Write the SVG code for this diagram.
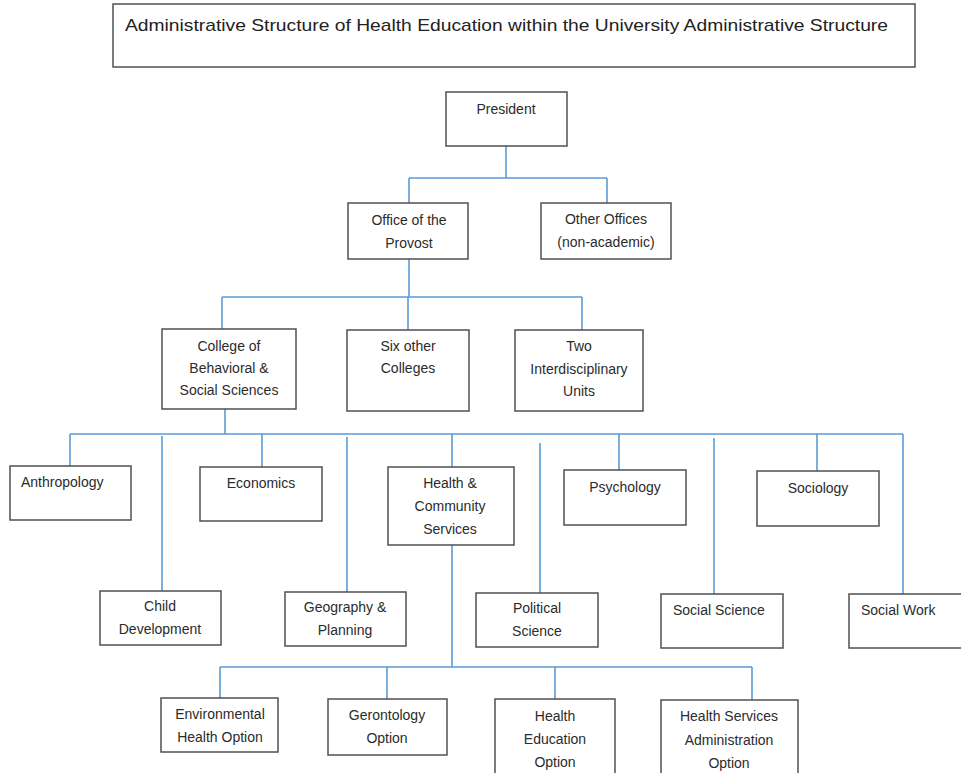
<svg xmlns="http://www.w3.org/2000/svg" width="961" height="773" viewBox="0 0 961 773">
  <style>
    .box { fill: #ffffff; stroke: #505050; stroke-width: 1.5; }
    .lbl { font-family: "Liberation Sans", Arial, sans-serif; font-size: 14px; fill: #2b2b2b; }
    .mid { text-anchor: middle; }
    .title { font-family: "Liberation Sans", Arial, sans-serif; font-size: 17px; fill: #222222; }
    .conn { fill: none; stroke: #5b9bd5; stroke-width: 1.6; }
  </style>
  <rect width="961" height="773" fill="#ffffff"/>

  <!-- heading -->
  <g id="title">
    <rect class="box" x="113" y="4" width="802" height="63"/>
    <text class="title" x="125" y="31" textLength="763" lengthAdjust="spacingAndGlyphs">Administrative Structure of Health Education within the University Administrative Structure</text>
  </g>

  <!-- reporting lines -->
  <g id="connectors">
    <path class="conn" d="M506 146 V178 M409 178 H607 M409 178 V203 M607 178 V203"/>
    <path class="conn" d="M409 259 V297 M222 297 H582 M222 297 V330 M408 297 V330 M582 297 V330"/>
    <path class="conn" d="M225 409 V434 M70 434 H903 M70 434 V466 M262 434 V467 M452 434 V467 M619 434 V470 M817 434 V471 M903 434 V594"/>
    <path class="conn" d="M162 436 V591 M347 437 V592 M540 443 V593 M714 438 V594"/>
    <path class="conn" d="M452 545 V667 M220 667 H752 M220 667 V698 M387 667 V699 M555 667 V699 M752 667 V700"/>
  </g>

  <g id="president">
    <rect class="box" x="446" y="92" width="121" height="54"/>
    <text class="lbl mid" x="506" y="114">President</text>
  </g>
  <g id="provost">
    <rect class="box" x="348" y="203" width="120" height="56"/>
    <text class="lbl mid" x="409" y="225">Office of the</text>
    <text class="lbl mid" x="409" y="248">Provost</text>
  </g>
  <g id="other-offices">
    <rect class="box" x="541" y="203" width="130" height="56"/>
    <text class="lbl mid" x="606" y="224">Other Offices</text>
    <text class="lbl mid" x="606" y="247">(non-academic)</text>
  </g>

  <g id="college-bss">
    <rect class="box" x="162" y="329" width="134" height="80"/>
    <text class="lbl mid" x="229" y="351">College of</text>
    <text class="lbl mid" x="229" y="373">Behavioral &amp;</text>
    <text class="lbl mid" x="229" y="395">Social Sciences</text>
  </g>
  <g id="six-colleges">
    <rect class="box" x="347" y="330" width="122" height="81"/>
    <text class="lbl mid" x="408" y="351">Six other</text>
    <text class="lbl mid" x="408" y="373">Colleges</text>
  </g>
  <g id="interdisciplinary">
    <rect class="box" x="515" y="330" width="128" height="81"/>
    <text class="lbl mid" x="579" y="351">Two</text>
    <text class="lbl mid" x="579" y="374">Interdisciplinary</text>
    <text class="lbl mid" x="579" y="396">Units</text>
  </g>

  <g id="anthropology">
    <rect class="box" x="10" y="466" width="121" height="54"/>
    <text class="lbl" x="21" y="487">Anthropology</text>
  </g>
  <g id="economics">
    <rect class="box" x="200" y="467" width="122" height="54"/>
    <text class="lbl mid" x="261" y="488">Economics</text>
  </g>
  <g id="health-community">
    <rect class="box" x="388" y="467" width="126" height="78"/>
    <text class="lbl mid" x="450" y="488">Health &amp;</text>
    <text class="lbl mid" x="450" y="511">Community</text>
    <text class="lbl mid" x="450" y="534">Services</text>
  </g>
  <g id="psychology">
    <rect class="box" x="564" y="470" width="122" height="55"/>
    <text class="lbl mid" x="625" y="492">Psychology</text>
  </g>
  <g id="sociology">
    <rect class="box" x="757" y="471" width="122" height="55"/>
    <text class="lbl mid" x="818" y="493">Sociology</text>
  </g>

  <g id="child-development">
    <rect class="box" x="100" y="591" width="121" height="54"/>
    <text class="lbl mid" x="160" y="611">Child</text>
    <text class="lbl mid" x="160" y="634">Development</text>
  </g>
  <g id="geography">
    <rect class="box" x="285" y="592" width="121" height="54"/>
    <text class="lbl mid" x="345" y="612">Geography &amp;</text>
    <text class="lbl mid" x="345" y="635">Planning</text>
  </g>
  <g id="political-science">
    <rect class="box" x="476" y="593" width="122" height="54"/>
    <text class="lbl mid" x="537" y="613">Political</text>
    <text class="lbl mid" x="537" y="636">Science</text>
  </g>
  <g id="social-science">
    <rect class="box" x="661" y="594" width="122" height="54"/>
    <text class="lbl" x="673" y="615">Social Science</text>
  </g>
  <g id="social-work">
    <rect class="box" x="849" y="594" width="122" height="54"/>
    <text class="lbl" x="861" y="615">Social Work</text>
  </g>

  <g id="environmental-health">
    <rect class="box" x="161" y="698" width="117" height="54"/>
    <text class="lbl mid" x="220" y="719">Environmental</text>
    <text class="lbl mid" x="220" y="742">Health Option</text>
  </g>
  <g id="gerontology">
    <rect class="box" x="328" y="699" width="119" height="56"/>
    <text class="lbl mid" x="387" y="720">Gerontology</text>
    <text class="lbl mid" x="387" y="743">Option</text>
  </g>
  <g id="health-education">
    <rect class="box" x="495" y="699" width="120" height="84"/>
    <text class="lbl mid" x="555" y="721">Health</text>
    <text class="lbl mid" x="555" y="744">Education</text>
    <text class="lbl mid" x="555" y="767">Option</text>
  </g>
  <g id="health-services-admin">
    <rect class="box" x="661" y="700" width="137" height="83"/>
    <text class="lbl mid" x="729" y="721">Health Services</text>
    <text class="lbl mid" x="729" y="745">Administration</text>
    <text class="lbl mid" x="729" y="768">Option</text>
  </g>
</svg>
